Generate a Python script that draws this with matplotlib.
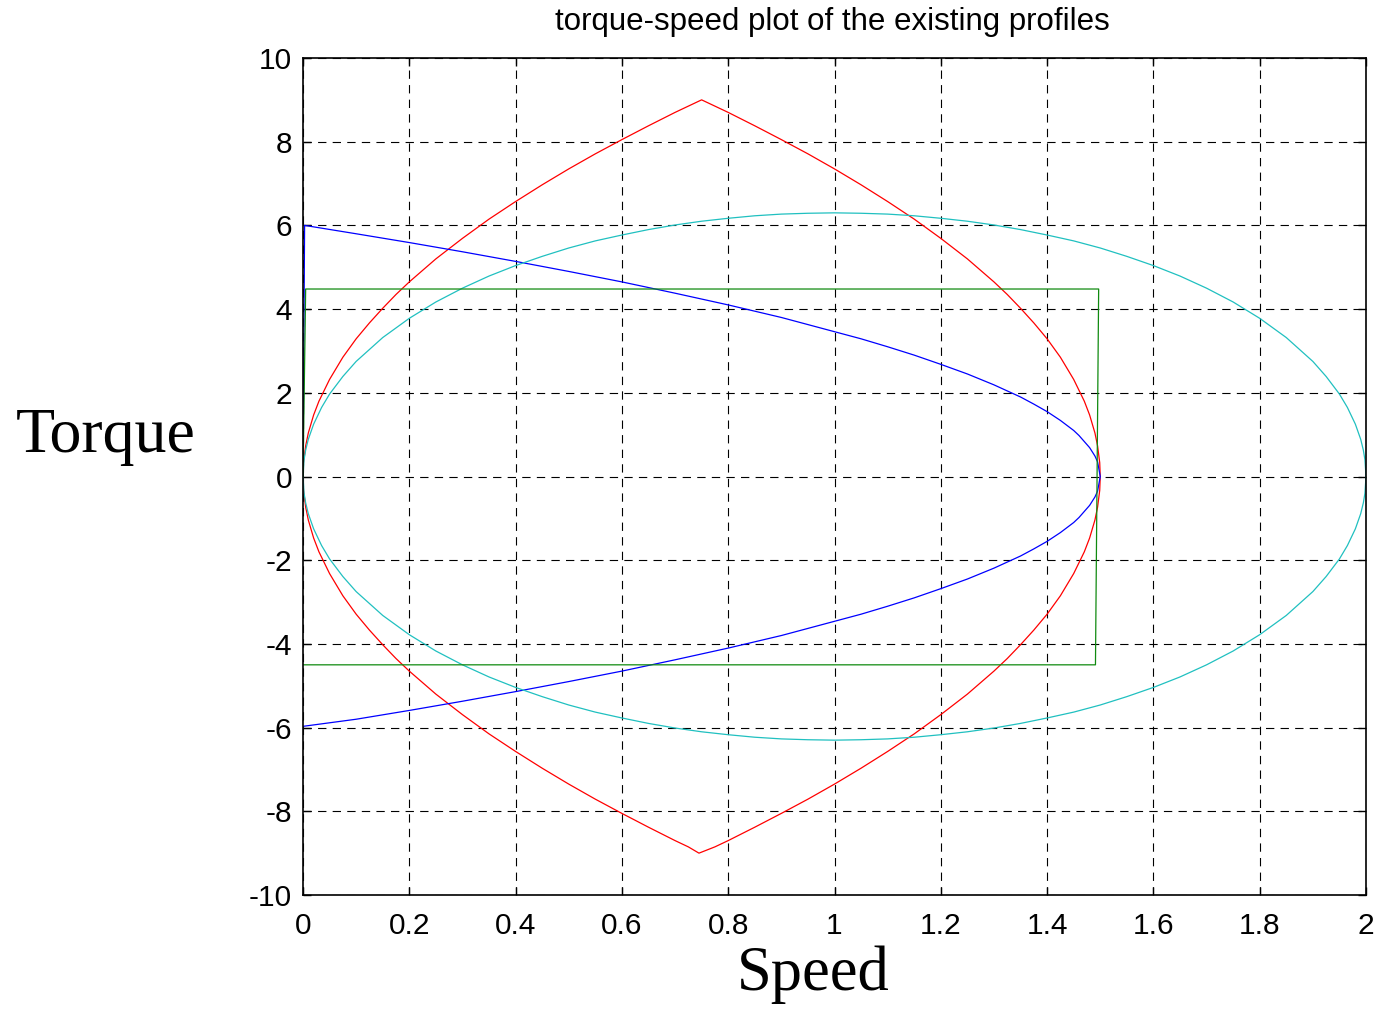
import matplotlib
matplotlib.use("Agg")
import matplotlib.pyplot as plt

plt.rcParams['lines.scale_dashes'] = False
plt.rcParams['font.family'] = ['Liberation Sans', 'DejaVu Sans']

# ---- data ----
x_ticks = [0, 0.2, 0.4, 0.6, 0.8, 1.0, 1.2, 1.4, 1.6, 1.8, 2.0]
x_tick_labels = ["0", "0.2", "0.4", "0.6", "0.8", "1", "1.2", "1.4", "1.6", "1.8", "2"]
y_ticks = [-10, -8, -6, -4, -2, 0, 2, 4, 6, 8, 10]
y_tick_labels = ["-10", "-8", "-6", "-4", "-2", "0", "2", "4", "6", "8", "10"]

# red profile (upper branch, left to right)
red_speed_up = [0, 0.001, 0.005, 0.01, 0.02, 0.03, 0.05, 0.075, 0.1, 0.125, 0.15, 0.175, 0.2, 0.25,
                0.3, 0.35, 0.4, 0.45, 0.5, 0.55, 0.6, 0.65, 0.7, 0.725, 0.75,
                0.775, 0.8, 0.85, 0.9, 0.95, 1.0, 1.05, 1.1, 1.15, 1.2, 1.25, 1.3, 1.325, 1.35, 1.375,
                1.4, 1.425, 1.45, 1.47, 1.48, 1.49, 1.495, 1.499, 1.5]
red_torque_up = [0, 0.33, 0.73, 1.04, 1.47, 1.80, 2.32, 2.85, 3.29, 3.67, 4.02, 4.35, 4.65, 5.20,
                 5.69, 6.15, 6.57, 6.97, 7.35, 7.71, 8.05, 8.38, 8.70, 8.85, 9.0,
                 8.85, 8.70, 8.38, 8.05, 7.71, 7.35, 6.97, 6.57, 6.15, 5.69, 5.20, 4.65, 4.35, 4.02, 3.67,
                 3.29, 2.85, 2.32, 1.80, 1.47, 1.04, 0.73, 0.33, 0]
# red profile (lower branch, right to left)
red_speed_dn = [1.5, 1.499, 1.495, 1.49, 1.48, 1.47, 1.45, 1.425, 1.4, 1.375, 1.35, 1.325, 1.3, 1.25,
                1.2, 1.15, 1.1, 1.05, 1.0, 0.95, 0.9, 0.85, 0.8, 0.775, 0.745,
                0.725, 0.7, 0.65, 0.6, 0.55, 0.5, 0.45, 0.4, 0.35, 0.3, 0.25, 0.2, 0.175, 0.15, 0.125,
                0.1, 0.075, 0.05, 0.03, 0.02, 0.01, 0.005, 0.001, 0]
red_torque_dn = [0, -0.33, -0.73, -1.04, -1.47, -1.80, -2.32, -2.85, -3.29, -3.67, -4.02, -4.35, -4.65, -5.20,
                 -5.69, -6.15, -6.57, -6.97, -7.35, -7.71, -8.05, -8.38, -8.70, -8.85, -9.0,
                 -8.85, -8.70, -8.38, -8.05, -7.71, -7.35, -6.97, -6.57, -6.15, -5.69, -5.20, -4.65, -4.35,
                 -4.02, -3.67, -3.29, -2.85, -2.32, -1.80, -1.47, -1.04, -0.73, -0.33, 0]

# blue profile
blue_speed = [0, 0.003, 0.1, 0.2, 0.3, 0.4, 0.5, 0.6, 0.7, 0.8, 0.9, 1.0, 1.05, 1.1, 1.15, 1.2, 1.25, 1.3,
              1.35, 1.375, 1.4, 1.425, 1.45, 1.46, 1.48, 1.49, 1.495, 1.5,
              1.495, 1.49, 1.48, 1.46, 1.45, 1.425, 1.4, 1.375, 1.35, 1.3, 1.25, 1.2, 1.15, 1.1, 1.05,
              1.0, 0.9, 0.8, 0.7, 0.6, 0.5, 0.4, 0.3, 0.2, 0.1, 0]
blue_torque = [0, 6.0, 5.80, 5.59, 5.37, 5.14, 4.90, 4.65, 4.38, 4.10, 3.80, 3.46, 3.29, 3.10, 2.90, 2.68,
               2.45, 2.19, 1.90, 1.73, 1.55, 1.34, 1.10, 0.98, 0.69, 0.49, 0.35, 0,
               -0.35, -0.49, -0.69, -0.98, -1.10, -1.34, -1.55, -1.73, -1.90, -2.19, -2.45, -2.68, -2.90,
               -3.10, -3.29, -3.46, -3.80, -4.10, -4.38, -4.65, -4.90, -5.14, -5.37, -5.59, -5.80, -5.97]

# cyan profile (upper branch, left to right)
cyan_speed_up = [0, 0.002, 0.005, 0.01, 0.02, 0.035, 0.05, 0.075, 0.1, 0.15, 0.2, 0.25, 0.3, 0.35, 0.4,
                 0.45, 0.5, 0.55, 0.6, 0.65, 0.7, 0.75, 0.8, 0.85, 0.9, 0.95, 1.0, 1.05, 1.1, 1.15, 1.2,
                 1.25, 1.3, 1.35, 1.4, 1.45, 1.5, 1.55, 1.6, 1.65, 1.7, 1.75, 1.8, 1.85, 1.9, 1.925,
                 1.95, 1.965, 1.98, 1.99, 1.995, 1.998, 2.0]
cyan_torque_up = [0, 0.40, 0.63, 0.89, 1.25, 1.65, 1.97, 2.39, 2.75, 3.32, 3.78, 4.17, 4.50, 4.79, 5.04,
                  5.26, 5.46, 5.63, 5.77, 5.90, 6.01, 6.10, 6.17, 6.23, 6.27, 6.29, 6.30, 6.29, 6.27, 6.23,
                  6.17, 6.10, 6.01, 5.90, 5.77, 5.63, 5.46, 5.26, 5.04, 4.79, 4.50, 4.17, 3.78, 3.32, 2.75,
                  2.39, 1.97, 1.65, 1.25, 0.89, 0.63, 0.40, 0]
# cyan profile (lower branch, right to left)
cyan_speed_dn = [2.0, 1.998, 1.995, 1.99, 1.98, 1.965, 1.95, 1.925, 1.9, 1.85, 1.8, 1.75, 1.7, 1.65, 1.6,
                 1.55, 1.5, 1.45, 1.4, 1.35, 1.3, 1.25, 1.2, 1.15, 1.1, 1.05, 1.0, 0.95, 0.9, 0.85, 0.8,
                 0.75, 0.7, 0.65, 0.6, 0.55, 0.5, 0.45, 0.4, 0.35, 0.3, 0.25, 0.2, 0.15, 0.1, 0.075,
                 0.05, 0.035, 0.02, 0.01, 0.005, 0.002, 0]
cyan_torque_dn = [0, -0.40, -0.63, -0.89, -1.25, -1.65, -1.97, -2.39, -2.75, -3.32, -3.78, -4.17, -4.50,
                  -4.79, -5.04, -5.26, -5.46, -5.63, -5.77, -5.90, -6.01, -6.10, -6.17, -6.23, -6.27, -6.29,
                  -6.30, -6.29, -6.27, -6.23, -6.17, -6.10, -6.01, -5.90, -5.77, -5.63, -5.46, -5.26, -5.04,
                  -4.79, -4.50, -4.17, -3.78, -3.32, -2.75, -2.39, -1.97, -1.65, -1.25, -0.89, -0.63, -0.40, 0]

# green profile (rectangle)
green_speed = [0, 0.005, 1.497, 1.491, 0]
green_torque = [0, 4.48, 4.48, -4.50, -4.50]

# ---- figure ----
W, H = 1381, 1009
fig = plt.figure(figsize=(W / 100, H / 100), dpi=100)
ax = fig.add_axes([303 / W, 1 - 895 / H, (1366 - 303) / W, (895 - 58) / H])

lw = 0.9
ax.plot(red_speed_up + red_speed_dn, red_torque_up + red_torque_dn, color='#ff0000', lw=lw)
ax.plot(blue_speed, blue_torque, color='#0000ff', lw=lw)
ax.plot(cyan_speed_up + cyan_speed_dn, cyan_torque_up + cyan_torque_dn, color='#20c0c0', lw=lw)
ax.plot(green_speed, green_torque, color='#108a10', lw=lw)

ax.set_xlim(0, 2)
ax.set_ylim(-10, 10)
ax.set_xticks(x_ticks)
ax.set_xticklabels(x_tick_labels)
ax.set_yticks(y_ticks)
ax.set_yticklabels(y_tick_labels)
ax.tick_params(direction='in', length=6, width=1, top=True, right=True,
               labelsize=21.5, colors='black')
ax.tick_params(axis='x', pad=12)
ax.tick_params(axis='y', pad=8)
ax.grid(True, color='black', lw=0.8, linestyle=(0, (6, 4.5)))
for s in ax.spines.values():
    s.set_linewidth(1.2)
    s.set_color('black')

fig.text(832 / W, 1 - 30 / H, "torque-speed plot of the existing profiles",
         ha='center', va='baseline', fontsize=22.5)
fig.text(106 / W, 1 - 452 / H, "Torque", ha='center', va='baseline', fontsize=46,
         family=['Liberation Serif', 'DejaVu Serif'])
fig.text(813 / W, 1 - 990 / H, "Speed", ha='center', va='baseline', fontsize=45,
         family=['Liberation Serif', 'DejaVu Serif'])

fig.savefig("out.png", dpi=100)
